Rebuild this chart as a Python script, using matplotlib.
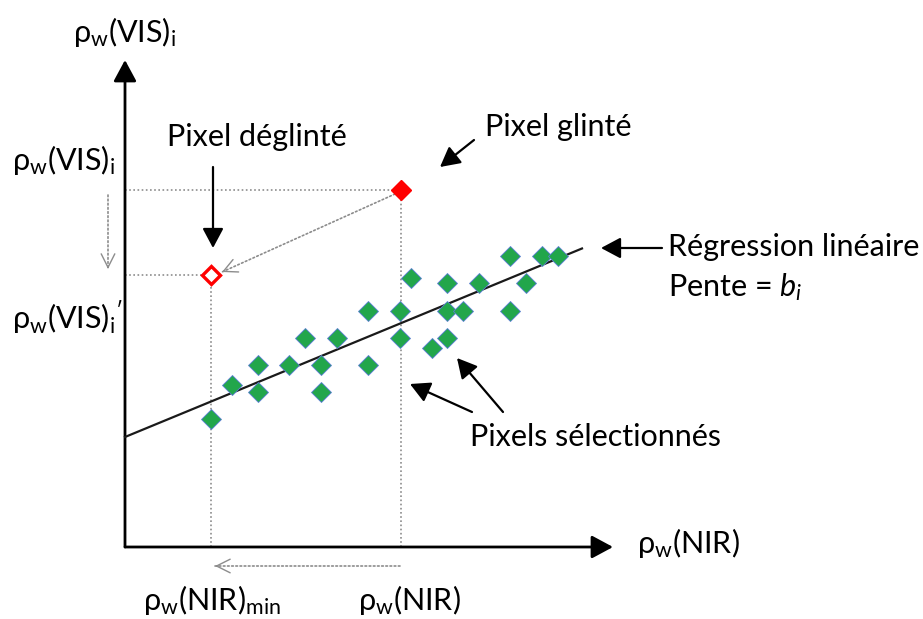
import matplotlib
matplotlib.use("Agg")
import matplotlib.pyplot as plt
import numpy as np

plt.rcParams['font.family'] = ['Lato', 'DejaVu Sans']
plt.rcParams['mathtext.fontset'] = 'custom'
plt.rcParams['mathtext.rm'] = 'Lato'
plt.rcParams['mathtext.it'] = 'Lato:italic'

# pixels sélectionnés (rho_w(NIR), rho_w(VIS)) en unités arbitraires
sel_x = [8.6, 10.7, 13.3, 13.3, 16.4, 18.0, 19.6, 19.6, 21.2, 24.3, 24.3, 27.5, 27.5,
         28.6, 30.7, 32.2, 32.2, 32.2, 33.8, 35.4, 38.5, 38.5, 40.1, 41.7, 43.3]
sel_y = [12.8, 16.2, 18.2, 15.5, 18.2, 20.9, 18.2, 15.5, 20.9, 23.6, 18.2, 23.6, 20.9,
         26.9, 19.9, 26.4, 23.6, 20.9, 23.6, 26.4, 29.1, 23.6, 26.4, 29.1, 29.1]

glint = (27.6, 35.7)
deglint = (8.6, 27.2)

# régression linéaire
reg_intercept = 11.0
reg_slope = 0.4125
reg_x = [0.0, 45.7]

GREEN = '#22a64b'
GRAY = '#8c8c8c'
FS = 22

fig = plt.figure(figsize=(9.23, 6.19), dpi=100)
ax = fig.add_axes([0, 0, 1, 1])
ax.set_xlim(-12.5, 79.8)
ax.set_ylim(-7.2, 54.7)
ax.axis('off')


def arrow(tail, tip, lw=1.6, hl=0.6, hw=0.32, ms=20):
    ax.annotate('', xy=tip, xytext=tail,
                arrowprops=dict(arrowstyle=f'-|>,head_length={hl},head_width={hw}',
                                mutation_scale=ms, lw=lw, color='black',
                                shrinkA=0, shrinkB=0))


def dotted_arrow(tail, tip):
    ax.annotate('', xy=tip, xytext=tail,
                arrowprops=dict(arrowstyle='-', ls=(0, (1, 1.5)), lw=1.2, color=GRAY,
                                shrinkA=0, shrinkB=0))
    d = np.array(tail) - np.array(tip)
    d = d / np.hypot(*d) * 0.3
    ax.annotate('', xy=tip, xytext=(tip[0] + d[0], tip[1] + d[1]),
                arrowprops=dict(arrowstyle='->,head_length=0.7,head_width=0.35',
                                mutation_scale=14, lw=1.0, color=GRAY,
                                shrinkA=0, shrinkB=0))


# axes
arrow((0, 0), (0, 48.7), lw=2.0, hl=0.65, hw=0.35)
arrow((0, 0), (48.8, 0), lw=2.0, hl=0.65, hw=0.35)

# lignes pointillées de projection
dot = dict(color=GRAY, ls=(0, (1, 1.5)), lw=1.2)
ax.plot([0, glint[0]], [glint[1], glint[1]], **dot)
ax.plot([glint[0], glint[0]], [0, glint[1]], **dot)
ax.plot([0, deglint[0]], [deglint[1], deglint[1]], **dot)
ax.plot([deglint[0], deglint[0]], [0, deglint[1]], **dot)

dotted_arrow((27.0, 35.3), (9.7, 27.5))
dotted_arrow((-1.7, 35.2), (-1.7, 27.8))
dotted_arrow((27.5, -1.9), (9.0, -1.9))

# régression
rx = np.array(reg_x)
ax.plot(rx, reg_intercept + reg_slope * rx, color='#1a1a1a', lw=1.6, zorder=3)

# points
ax.plot(sel_x, sel_y, 'D', ms=10.5, mfc=GREEN, mec='#5b7fd6', mew=0.6, zorder=4)
ax.plot(*glint, 'D', ms=10.5, mfc='#ff0000', mec='#ff0000', zorder=4)
ax.plot(*deglint, 'D', ms=9.5, mfc='white', mec='#ff0000', mew=2.4, zorder=4)

# flèches d'annotation
arrow((8.8, 38.0), (8.8, 29.9))
arrow((34.9, 40.7), (31.5, 38.0))
arrow((53.7, 29.9), (47.6, 29.9))
arrow((34.7, 13.5), (28.5, 16.3))
arrow((37.8, 13.5), (33.2, 18.9))

# textes
ax.text(-5.2, 51.5, r'$\mathrm{ρ_w(VIS)_i}$', fontsize=FS, va='center')
ax.text(-11.3, 38.7, r'$\mathrm{ρ_w(VIS)_i}$', fontsize=FS, va='center')
ax.text(-11.3, 23.0, r"$\mathrm{ρ_w(VIS)_i}^{\prime}$", fontsize=FS, va='center')
ax.text(4.2, 41.0, 'Pixel déglinté', fontsize=FS, va='center')
ax.text(36.0, 42.0, 'Pixel glinté', fontsize=FS, va='center')
ax.text(54.3, 30.0, 'Régression linéaire', fontsize=FS, va='center')
ax.text(54.3, 26.0, r'Pente = $\mathit{b_i}$', fontsize=FS, va='center')
ax.text(34.5, 11.0, 'Pixels sélectionnés', fontsize=FS, va='center')
ax.text(51.2, 0.4, r'$\mathrm{ρ_w(NIR)}$', fontsize=FS, va='center')
ax.text(1.8, -5.3, r'$\mathrm{ρ_w(NIR)_{min}}$', fontsize=FS, va='center')
ax.text(23.3, -5.3, r'$\mathrm{ρ_w(NIR)}$', fontsize=FS, va='center')

fig.savefig('out.png', dpi=100)
